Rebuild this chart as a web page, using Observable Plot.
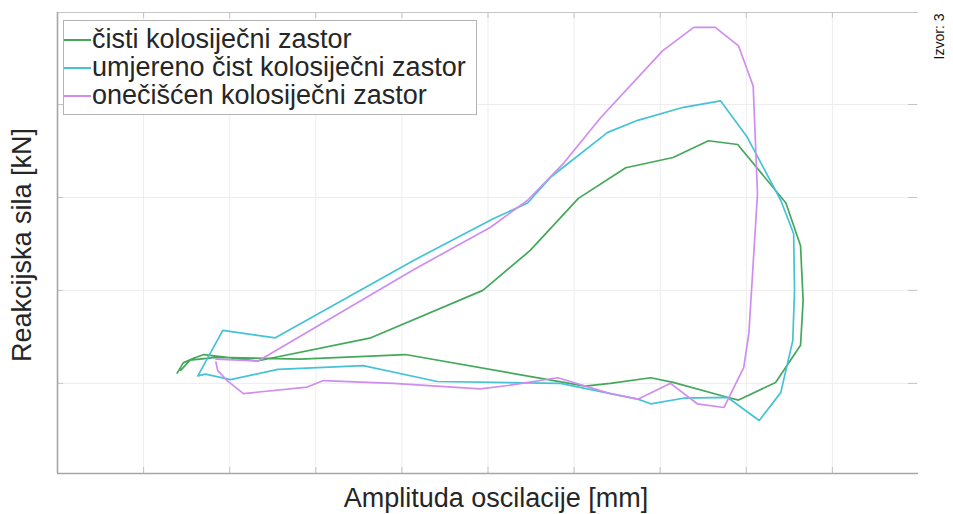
<!DOCTYPE html>
<html>
<head>
<meta charset="utf-8">
<script src="https://cdn.jsdelivr.net/npm/d3@7"></script>
<script src="https://cdn.jsdelivr.net/npm/@observablehq/plot@0.6"></script>
<style>
  html, body { margin: 0; padding: 0; background: #fff; }
  #wrap { position: relative; width: 953px; height: 514px; font-family: "Liberation Sans", Arial, sans-serif; }
  #legend { position: absolute; left: 63px; top: 20px; width: 414px; height: 95px; border: 1px solid #b4b4b4; background: #fff; box-sizing: border-box; padding-top: 4px; }
  .row { display: flex; align-items: center; height: 28px; line-height: 28px; font-size: 27px; color: #262626; white-space: nowrap; }
  .sw { display: inline-block; width: 27px; height: 2px; margin-right: 1px; margin-top: 1px; flex: none; }
</style>
</head>
<body>
<div id="wrap"></div>
<script>
// ---- data (arbitrary units; the axes carry no numeric labels) ----
const seriesNames = ["čisti kolosiječni zastor", "umjereno čist kolosiječni zastor", "onečišćen kolosiječni zastor"];
const seriesColors = ["#43a85a", "#45c2d6", "#cf8df0"];

const cistiX = [1.39,1.46,1.58,1.70,2.32,3.64,4.94,5.49,6.05,6.60,7.15,7.56,7.90,8.46,8.63,8.66,8.63,8.34,7.91,7.78,7.15,6.89,6.42,6.13,4.04,2.82,1.84,1.54,1.43];
const cistiY = [1.11,1.22,1.27,1.31,1.24,1.49,2.00,2.43,2.99,3.32,3.43,3.61,3.57,2.94,2.48,1.89,1.41,1.01,0.82,0.85,1.01,1.06,1.00,0.97,1.31,1.26,1.28,1.25,1.14];

const umjerenoX = [1.63,1.92,2.53,4.13,5.06,5.46,5.73,6.39,6.74,7.27,7.70,8.01,8.40,8.55,8.56,8.54,8.40,8.15,7.78,7.27,6.89,6.74,5.84,4.41,3.55,2.56,2.01,1.72,1.63];
const umjerenoY = [1.08,1.57,1.49,2.32,2.77,2.94,3.22,3.70,3.83,3.97,4.04,3.65,2.97,2.61,2.00,1.46,0.90,0.60,0.85,0.84,0.78,0.83,1.00,1.02,1.19,1.15,1.04,1.10,1.08];

const onecisX = [1.84,2.33,4.13,5.03,5.46,5.88,6.31,7.03,7.39,7.64,7.91,8.08,8.13,8.03,7.97,7.82,7.74,7.43,7.12,6.74,6.42,5.81,5.26,4.91,3.90,3.09,2.90,2.16,1.97,1.86,1.84];
const onecisY = [1.26,1.24,2.22,2.68,2.97,3.37,3.86,4.58,4.83,4.83,4.63,4.20,3.04,1.54,1.17,0.89,0.74,0.78,1.00,0.83,0.89,1.06,0.98,0.94,1.00,1.03,0.96,0.89,1.03,1.14,1.23];

const xTicks = [1,2,3,4,5,6,7,8,9];
const yTicks = [1,2,3,4];
const xDomain = [0, 10];
const yDomain = [0.03, 4.99];

const xLabel = "Amplituda oscilacije [mm]";
const yLabel = "Reakcijska sila [kN]";
const sourceNote = "Izvor: 3";

// ---- build table ----
const xs = [cistiX, umjerenoX, onecisX];
const ys = [cistiY, umjerenoY, onecisY];
const table = seriesNames.flatMap((s, i) => xs[i].map((x, j) => ({s, x, y: ys[i][j], i: j})));

const W = 953, H = 514;
const mL = 57, mR = 35, mT = 12, mB = 41;
const frameH = H - mT - mB, frameW = W - mL - mR;
const tickLen = 6;

const chart = Plot.plot({
  width: W, height: H,
  marginLeft: mL, marginRight: mR, marginTop: mT, marginBottom: mB,
  x: {domain: xDomain, axis: null},
  y: {domain: yDomain, axis: null},
  color: {domain: seriesNames, range: seriesColors},
  style: {fontFamily: "'Liberation Sans', Arial, sans-serif", background: "#fff"},
  marks: [
    Plot.ruleX(xTicks, {x: d => d, stroke: "#ededed", strokeWidth: 1}),
    Plot.ruleY(yTicks, {y: d => d, stroke: "#ededed", strokeWidth: 1}),
    // inward ticks
    Plot.ruleX(xTicks, {x: d => d, insetTop: frameH - tickLen, stroke: "#c4c4c4"}),
    Plot.ruleX(xTicks, {x: d => d, insetBottom: frameH - tickLen, stroke: "#c4c4c4"}),
    Plot.ruleY(yTicks, {y: d => d, insetRight: frameW - tickLen, stroke: "#c4c4c4"}),
    Plot.ruleY(yTicks, {y: d => d, insetLeft: frameW - tickLen - 4, insetRight: 1, stroke: "#c4c4c4"}),
    // box lines (left, bottom, top)
    Plot.ruleY([yDomain[1]], {stroke: "#c6c6c6", strokeWidth: 1.2}),
    Plot.ruleX([xDomain[0]], {stroke: "#a6a6a6", strokeWidth: 1.6}),
    Plot.ruleY([yDomain[0]], {stroke: "#a6a6a6", strokeWidth: 1.6}),
    // curves
    Plot.line(table, {x: "x", y: "y", z: "s", stroke: "s", strokeWidth: 1.7, curve: "linear", strokeLinejoin: "round"}),
    // labels
    Plot.text([xLabel], {frameAnchor: "bottom", textAnchor: "middle", dx: 8, dy: 25, fontSize: 27, fill: "#262626", lineAnchor: "middle"}),
    Plot.text([yLabel], {frameAnchor: "left", textAnchor: "middle", dx: -35, dy: 2, rotate: -90, fontSize: 27, fill: "#262626", lineAnchor: "middle"}),
    Plot.text([sourceNote], {frameAnchor: "top-right", dx: 21, dy: 24, rotate: -90, fontSize: 14, fill: "#111", lineAnchor: "middle", textAnchor: "middle"})
  ]
});

const wrap = document.getElementById("wrap");
wrap.appendChild(chart);

const legend = document.createElement("div");
legend.id = "legend";
seriesNames.forEach((name, i) => {
  const row = document.createElement("div");
  row.className = "row";
  const sw = document.createElement("span");
  sw.className = "sw";
  sw.style.background = seriesColors[i];
  const t = document.createElement("span");
  t.textContent = name;
  row.appendChild(sw);
  row.appendChild(t);
  legend.appendChild(row);
});
wrap.appendChild(legend);
</script>
</body>
</html>
